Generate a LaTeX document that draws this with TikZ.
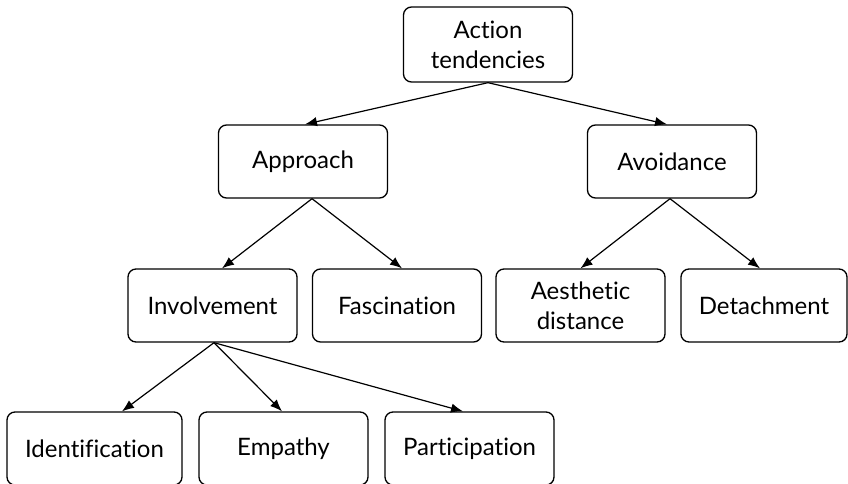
\documentclass[tikz,border=0pt]{standalone}
\usepackage{fontspec}
\setmainfont[Ligatures=NoCommon]{Lato}
\usetikzlibrary{arrows.meta,calc}
\tikzset{
  box/.style={draw, line width=1pt, rounded corners=6pt, minimum width=126.75pt,
    minimum height=54.75pt, align=center, inner sep=0pt,
    font=\fontsize{18}{22.5}\selectfont},
  link/.style={draw, line width=0.9pt, -{Latex[length=9pt,width=7pt]}}
}
\begin{document}
\begin{tikzpicture}[x=0.75pt,y=-0.75pt]
\useasboundingbox (0,0) rectangle (848,483);
\node[box, minimum height=56.25pt] (act) at (488,44.5) {Action\\tendencies};
\node[box] (app) at (303,161.5) {Approach};
\node[box] (avo) at (672,161.5) {Avoidance};
\node[box] (inv) at (212.5,305.5) {Involvement};
\node[box] (fas) at (397,305.5) {Fascination};
\node[box] (aes) at (580.5,305.5) {Aesthetic\\distance};
\node[box, minimum width=124.5pt] (det) at (764,305.5) {Detachment};
\node[box, minimum width=131.25pt] (ide) at (94.5,448.5) {Identification};
\node[box] (emp) at (283.5,448.5) {Empathy};
\node[box] (par) at (469.5,448.5) {Participation};
\coordinate (appo) at ($(app.south)+(9,0)$);
\coordinate (avoo) at ($(avo.south)+(-2,0)$);
\coordinate (invo) at ($(inv.south)+(1.5,0)$);
\draw[link] (act.south) -- ($(app.north)+(2,0)$);
\draw[link] (act.south) -- ($(avo.north)+(-5,0)$);
\draw[link] (appo) -- ($(inv.north)+(9.5,0)$);
\draw[link] (appo) -- ($(fas.north)+(5,0)$);
\draw[link] (avoo) -- (aes.north);
\draw[link] (avoo) -- ($(det.north)+(-4,0)$);
\draw[link] (invo) -- ($(ide.north)+(27.5,0)$);
\draw[link] (invo) -- ($(emp.north)+(-1.5,0)$);
\draw[link] (invo) -- ($(par.north)+(-6.5,0)$);
\end{tikzpicture}
\end{document}
